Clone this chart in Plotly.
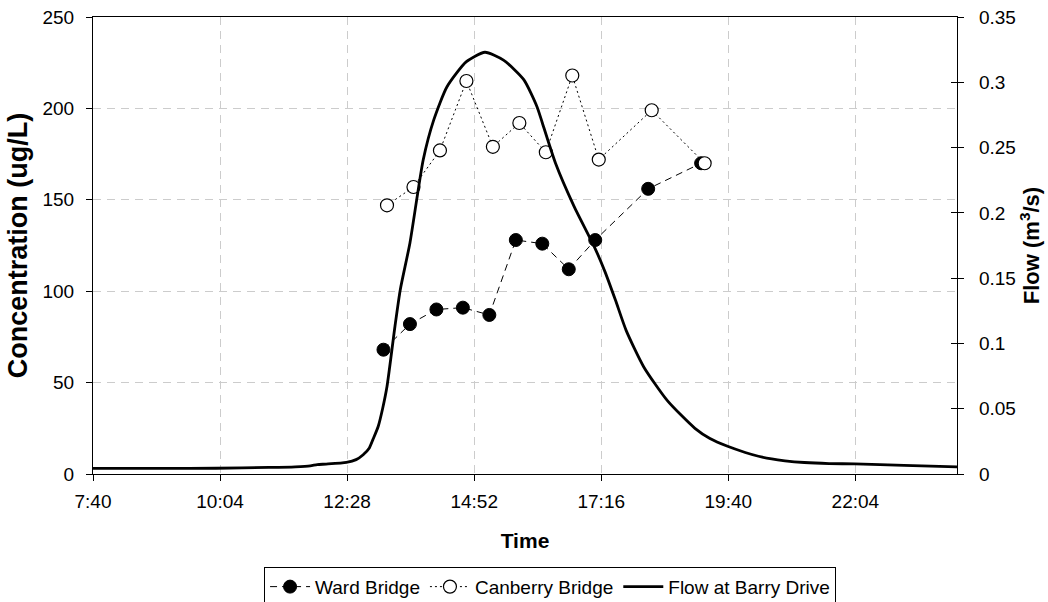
import plotly.graph_objects as go
from datetime import datetime, timedelta

BASE = datetime(2000, 1, 1)


def to_time(s):
    h, m = map(int, s.split(":"))
    return BASE + timedelta(hours=h, minutes=m)


# ---- data ----
ward_times = ["13:10", "13:40", "14:10", "14:40", "15:10", "15:40",
              "16:10", "16:40", "17:10", "18:10", "19:10"]
ward_conc = [68, 82, 90, 91, 87, 128, 126, 112, 128, 156, 170]

canberry_times = ["13:14", "13:44", "14:14", "14:44", "15:14", "15:44",
                  "16:14", "16:44", "17:14", "18:14", "19:14"]
canberry_conc = [147, 157, 177, 215, 179, 192, 176, 218, 172, 199, 170]

flow_times = ["07:40", "09:00", "10:00", "11:00", "11:30", "11:47", "11:55",
              "12:05", "12:28", "12:39", "12:47", "12:54", "12:58", "13:04",
              "13:09", "13:14", "13:23", "13:29", "13:40", "13:55", "14:07",
              "14:22", "14:44", "15:05", "15:26", "15:49", "16:04", "16:10",
              "16:25", "16:46", "17:09", "17:21", "17:33", "17:45", "18:05",
              "18:32", "19:03", "19:20", "19:40", "20:00", "20:15", "20:30",
              "20:45", "21:07", "21:35", "22:04", "23:00", "24:00"]
flow_vals = [0.0043, 0.0043, 0.0044, 0.0050, 0.0055, 0.0062, 0.0072,
             0.0076, 0.0089, 0.0110, 0.0148, 0.0200, 0.0263, 0.0364,
             0.0500, 0.0670, 0.1130, 0.1410, 0.1770, 0.2405, 0.2712,
             0.2966, 0.3158, 0.3230, 0.3170, 0.3020, 0.2813, 0.2690,
             0.2380, 0.2050, 0.1740, 0.1550, 0.1330, 0.1100, 0.0820,
             0.0560, 0.0350, 0.0272, 0.0212, 0.0165, 0.0136, 0.0115,
             0.0101, 0.0088, 0.0080, 0.0077, 0.0066, 0.0054]

x_start = "2000-01-01 07:40:48"   # 0.32 day
x_end = "2000-01-02 00:00:00"     # 1.00 day
x_step_ms = 0.1 * 24 * 3600 * 1000  # 0.1 day

FONT = "Arial, 'Liberation Sans', sans-serif"
GRID = "#cccccc"

ward_x = [to_time(s) for s in ward_times]
canb_x = [to_time(s) for s in canberry_times]
flow_x = [to_time(s) for s in flow_times]

fig = go.Figure()

fig.add_trace(go.Scatter(
    x=ward_x, y=ward_conc, name="Ward Bridge", mode="lines+markers",
    line=dict(color="black", width=1, dash="7px,5px"),
    marker=dict(symbol="circle", size=13, color="black",
                line=dict(color="black", width=1)),
    yaxis="y"))

fig.add_trace(go.Scatter(
    x=canb_x, y=canberry_conc, name="Canberry Bridge", mode="lines+markers",
    line=dict(color="black", width=1, dash="2px,3px"),
    marker=dict(symbol="circle", size=13, color="white",
                line=dict(color="black", width=1.2)),
    yaxis="y"))

fig.add_trace(go.Scatter(
    x=flow_x, y=flow_vals, name="Flow at Barry Drive", mode="lines",
    line=dict(color="black", width=2.8, shape="spline", smoothing=0.6),
    yaxis="y2"))

# helper axis for the inner half of the right-axis crossing ticks
fig.add_trace(go.Scatter(x=[flow_x[0]], y=[flow_vals[0]], mode="lines",
                         line=dict(width=0), showlegend=False,
                         hoverinfo="skip", yaxis="y3"))

tickfont = dict(family=FONT, size=19, color="black")

fig.update_layout(
    width=1048, height=602,
    margin=dict(l=93, r=91, t=17, b=128, autoexpand=False),
    paper_bgcolor="white", plot_bgcolor="white",
    font=dict(family=FONT, color="black"),
    showlegend=True,
    xaxis=dict(
        type="date", range=[x_start, x_end],
        tick0=x_start, dtick=x_step_ms, tickformat="%-H:%M",
        showgrid=True, gridcolor=GRID, griddash="8px,6px", gridwidth=1,
        showline=True, linecolor="black", linewidth=1.2, mirror=True,
        ticks="outside", ticklen=6, tickcolor="black", tickwidth=1,
        ticklabelstandoff=4, tickfont=tickfont, zeroline=False,
        automargin=False,
        title=dict(text="<b>Time</b>", font=dict(family=FONT, size=21),
                   standoff=22)),
    yaxis=dict(
        range=[0, 250], dtick=50, tick0=0,
        showgrid=True, gridcolor=GRID, griddash="8px,6px", gridwidth=1,
        zeroline=False, showline=True, linecolor="black", linewidth=1.2,
        ticks="outside", ticklen=6, tickcolor="black", tickwidth=1,
        ticklabelstandoff=8, tickfont=tickfont, automargin=False,
        title=dict(text="<b>Concentration (ug/L)</b>",
                   font=dict(family=FONT, size=27), standoff=6)),
    yaxis2=dict(
        overlaying="y", side="right", anchor="x",
        range=[0, 0.35], dtick=0.05, tick0=0,
        showgrid=False, zeroline=False, showline=True, linecolor="black",
        linewidth=1.2, ticks="outside", ticklen=6, tickcolor="black",
        tickwidth=1, ticklabelstandoff=11, tickfont=tickfont,
        automargin=False,
        title=dict(text="<b>Flow (m<sup>3</sup>/s)</b>",
                   font=dict(family=FONT, size=22), standoff=8)),
    yaxis3=dict(
        overlaying="y", side="right", anchor="x",
        range=[0, 0.35], dtick=0.05, tick0=0,
        showgrid=False, zeroline=False, showline=False,
        ticks="inside", ticklen=6, tickcolor="black", tickwidth=1,
        showticklabels=False, automargin=False),
    legend=dict(
        orientation="h", x=0.529, xanchor="center", y=-0.203, yanchor="top",
        bordercolor="black", borderwidth=1, bgcolor="white",
        font=dict(family=FONT, size=19, color="black"),
        itemwidth=40, tracegroupgap=0),
)

fig.write_html("out.html")
